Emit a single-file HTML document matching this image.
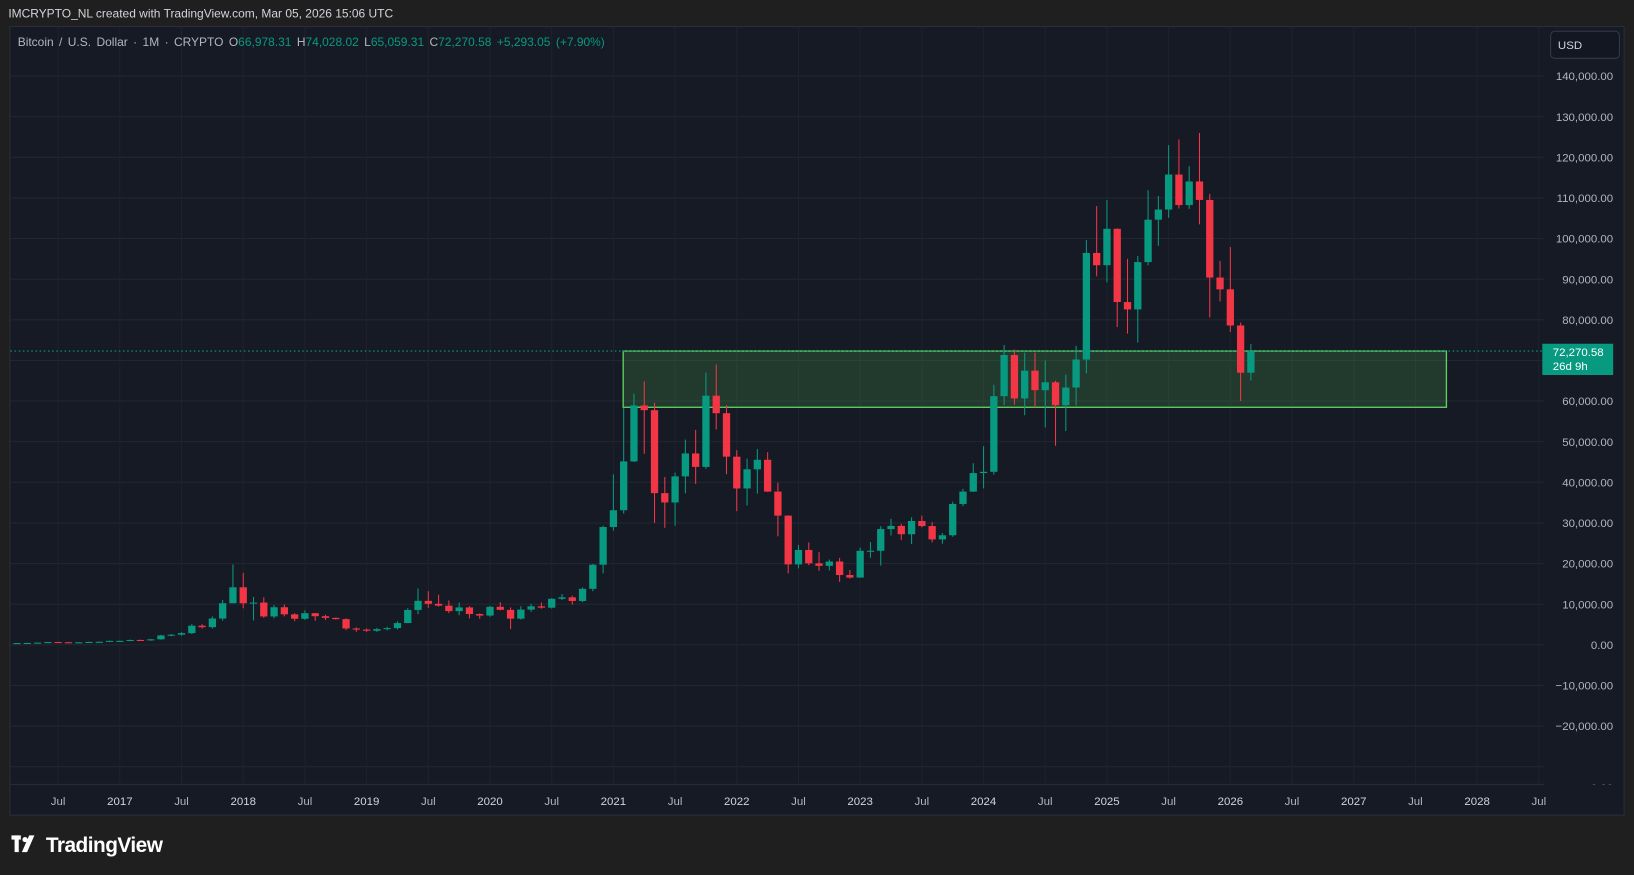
<!DOCTYPE html>
<html><head><meta charset="utf-8"><style>
html,body{margin:0;padding:0;background:#1f1f1f;width:1634px;height:875px;overflow:hidden}
svg{display:block}
text{font-family:"Liberation Sans",sans-serif}
</style></head><body>
<svg id="s" width="1634" height="875" viewBox="0 0 1568 840" preserveAspectRatio="none">
<defs><clipPath id="cp"><rect x="1482" y="26" width="80" height="727"/></clipPath></defs>
<rect x="0" y="0" width="1568" height="840" fill="#1f1f1f"/>
<text x="8" y="17" font-size="11.5" fill="#d1d4dc">IMCRYPTO_NL created with TradingView.com, Mar 05, 2026 15:06 UTC</text>
<rect x="9.5" y="25.5" width="1549" height="757" fill="#161a25" stroke="#2a2e39"/>
<g id="grid"></g>
<rect x="598" y="337" width="790" height="54" fill="rgba(76,175,80,0.22)" stroke="#5fcf5f" stroke-width="1.3"/>
<line x1="10" y1="337" x2="1482" y2="337" stroke="#089981" stroke-dasharray="1.5,2.5" stroke-width="1"/>
<g id="candles"></g>
<line x1="10" y1="753" x2="1482" y2="753" stroke="#2a2e39"/>
<g id="labels" font-size="11" fill="#b2b5be"></g>
<text x="1548" y="760" font-size="11" fill="#b2b5be" text-anchor="end" clip-path="url(#cp)">0.00</text>
<rect x="1488" y="30" width="66" height="26" rx="4" fill="#131722" stroke="#363a45"/>
<text x="1495" y="47" font-size="11" fill="#d1d4dc">USD</text>
<rect x="1480" y="330" width="68" height="30" fill="#089981"/>
<text x="1490" y="342" font-size="11" fill="#ffffff">72,270.58</text>
<text x="1490" y="355" font-size="11" fill="#ffffff">26d 9h</text>
<text x="17" y="44" font-size="11.5" fill="#b2b5be" word-spacing="2">Bitcoin / U.S. Dollar · 1M · CRYPTO  O<tspan fill="#089981">66,978.31</tspan>  H<tspan fill="#089981">74,028.02</tspan>  L<tspan fill="#089981">65,059.31</tspan>  C<tspan fill="#089981">72,270.58</tspan>  <tspan fill="#089981">+5,293.05 (+7.90%)</tspan></text>
<g fill="#ffffff"><rect x="11" y="802" width="9" height="4"/><rect x="14" y="802" width="4" height="16"/><circle cx="24" cy="806" r="2.5"/><polygon points="28,802 33,802 26,818 21,818"/></g>
<text x="44" y="818" font-size="20" fill="#ffffff" font-weight="bold" letter-spacing="-0.5">TradingView</text>
</svg>
<script>
const NS="http://www.w3.org/2000/svg";
function el(p,t,a,txt){const e=document.createElementNS(NS,t);for(const k in a)e.setAttribute(k,a[k]);if(txt)e.textContent=txt;p.appendChild(e);return e;}
const Y=p=>619-p*0.0039;
const X=(y,m)=>115+((y-2017)*12+(m-1))*9.867;
const grid=document.getElementById('grid'),lab=document.getElementById('labels'),cg=document.getElementById('candles');
for(let v=140000;v>=-30000;v-=10000){const y=Y(v);if(y>750)continue;el(grid,'line',{x1:10,x2:1482,y1:y,y2:y,stroke:'#222632'});
if(v>-30000)el(lab,'text',{x:1548,y:y+4,'text-anchor':'end'},(v<0?'−':'')+Math.abs(v).toLocaleString('en-US')+'.00');}
const xl=[];for(let yr=2016;yr<=2028;yr++){xl.push([yr,7,'Jul']);xl.push([yr+1,1,''+(yr+1)]);}
xl.forEach(([yr,m,t])=>{const x=X(yr,m);if(x<20||x>1480)return;el(grid,'line',{x1:x,x2:x,y1:26,y2:753,stroke:'#1e222d'});
el(lab,'text',{x:x,y:773,'text-anchor':'middle',fill:t=='Jul'?'#b2b5be':'#d1d4dc'},t);});
const d=[
[2016,3,416],[2016,4,448],[2016,5,531],[2016,6,673],[2016,7,624],[2016,8,575],[2016,9,609],[2016,10,698],[2016,11,742],[2016,12,963],
[2017,1,970],[2017,2,1190],[2017,3,1080],[2017,4,1348],[2017,5,2300],[2017,6,2480],[2017,7,2875],[2017,8,4700],[2017,9,4338],[2017,10,6468],[2017,11,10233],[2017,12,14156,19783,10800],
[2018,1,10221,17712,9000],[2018,2,10397,11800,6000],[2018,3,6973,11700,6600],[2018,4,9240,9800,6500],[2018,5,7494,9900,7000],[2018,6,6404,7800,5800],[2018,7,7780,8500,6100],[2018,8,7037,7800,5900],[2018,9,6625,7400,6100],[2018,10,6317,6700,6200],[2018,11,4017,6500,3600],[2018,12,3742,4300,3200],
[2019,1,3457],[2019,2,3854],[2019,3,4105],[2019,4,5350],[2019,5,8574,9000,5300],[2019,6,10817,13880,7500],[2019,7,10085,13200,9100],[2019,8,9630,12300,9400],[2019,9,8293,10900,7800],[2019,10,9199,10400,7300],[2019,11,7569,9500,6500],[2019,12,7193,7700,6400],
[2020,1,9350,9600,6900],[2020,2,8599,10500,8500],[2020,3,6438,9200,3850],[2020,4,8658,9500,6200],[2020,5,9461,10100,8100],[2020,6,9137,10400,8900],[2020,7,11323,11500,8900],[2020,8,11681,12500,11000],[2020,9,10784,12100,9900],[2020,10,13781,14100,10500],[2020,11,19713,19900,13200],[2020,12,28990,29300,17600],
[2021,1,33114,41950,28100],[2021,2,45137,58350,32300],[2021,3,58918,61800,45000],[2021,4,57750,64850,47000],[2021,5,37332,59600,30000],[2021,6,35040,41300,28800],[2021,7,41461,42400,29300],[2021,8,47100,50500,37300],[2021,9,43790,52900,39600],[2021,10,61318,67000,43300],[2021,11,57005,69000,53000],[2021,12,46306,59000,42000],
[2022,1,38483,47900,32900],[2022,2,43194,45800,34300],[2022,3,45539,48200,37200],[2022,4,37714,47400,37600],[2022,5,31792,39900,26700],[2022,6,19785,31900,17600],[2022,7,23336,24600,18800],[2022,8,20050,25200,19600],[2022,9,19432,22800,18200],[2022,10,20495,21000,18300],[2022,11,17168,21400,15500],[2022,12,16548,18400,16300],
[2023,1,23139,23900,16500],[2023,2,23147,25300,21400],[2023,3,28478,29200,19500],[2023,4,29268,31000,26900],[2023,5,27220,29800,25800],[2023,6,30477,31400,24800],[2023,7,29230,31800,28900],[2023,8,25940,30200,25200],[2023,9,26962,27500,24900],[2023,10,34667,35200,26600],[2023,11,37713,38400,34100],[2023,12,42265,44700,37600],
[2024,1,42582,48900,38500],[2024,2,61198,64000,41900],[2024,3,71333,73800,59000],[2024,4,60636,72700,59100],[2024,5,67491,71900,56500],[2024,6,62678,71900,58400],[2024,7,64619,70000,53500],[2024,8,58969,65000,49000],[2024,9,63329,66500,52600],[2024,10,70215,73600,58900],[2024,11,96449,99600,66800],[2024,12,93430,108000,90700],
[2025,1,102405,109500,89200],[2025,2,84373,102500,78200],[2025,3,82549,95000,76600],[2025,4,94207,95700,74400],[2025,5,104638,111900,93400],[2025,6,107135,110500,98200],[2025,7,115758,123000,105100],[2025,8,108236,124400,107400],[2025,9,114049,117800,107300],[2025,10,109500,126000,103500],[2025,11,90400,111000,80600],[2025,12,87500,94500,84500],
[2026,1,78600,97900,77000],[2026,2,66978,79300,60000],[2026,3,72270,74028,65059]];
let prev=null;
d.forEach(r=>{const [yr,m,c]=r;const o=prev===null?c*0.95:prev;let h=r[3]!==undefined?r[3]:Math.max(o,c)*1.08,l=r[4]!==undefined?r[4]:Math.min(o,c)*0.92;
h=Math.max(h,o,c);l=Math.min(l,o,c);const x=X(yr,m),col=c>=o?'#089981':'#f23645';
el(cg,'line',{x1:x,x2:x,y1:Y(h),y2:Y(l),stroke:col,'stroke-width':1});
const t=Y(Math.max(o,c)),b=Y(Math.min(o,c));el(cg,'rect',{x:x-3.5,y:t,width:7,height:Math.max(1,b-t),fill:col});prev=c;});
</script>
</body></html>
